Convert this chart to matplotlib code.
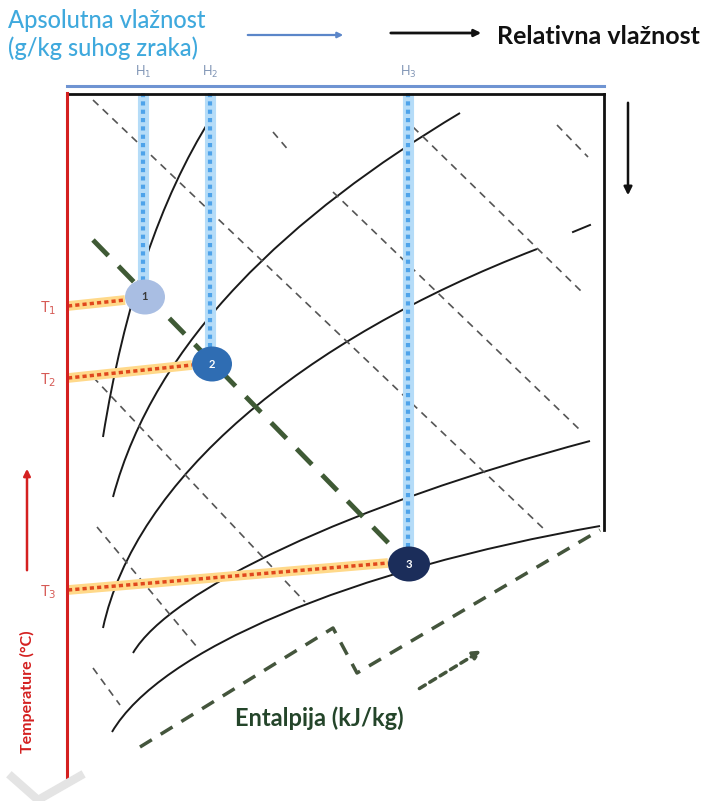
import matplotlib.pyplot as plt
from matplotlib.path import Path
from matplotlib.patches import PathPatch, Ellipse

plt.rcParams['font.family'] = ['Lato', 'DejaVu Sans']

# everything below is in picture pixels (x right, y down)

# relative humidity curves, cubic bezier: start, ctrl1, ctrl2, end
rh_curves = [
    [(103, 437), (124, 306), (160, 199), (211, 118)],
    [(113, 497), (155, 340), (290, 215), (460, 113)],
    [(103, 628), (135, 480), (300, 340), (537, 249)],
    [(133, 653), (170, 590), (350, 505), (590, 441)],
    [(112, 732), (160, 650), (350, 570), (600, 526)],
]
rh_stub = [(573, 232), (590, 225)]

# thin dashed enthalpy lines
enthalpy_lines = [
    [(93, 100), (545, 530)],
    [(273, 132), (290, 152)],
    [(333, 192), (580, 430)],
    [(413, 127), (583, 293)],
    [(557, 125), (588, 157)],
    [(93, 377), (305, 602)],
    [(97, 527), (197, 647)],
    [(93, 668), (120, 705)],
]

process_line = [(93, 240), (405, 560)]
enthalpy_axis = [(140, 747), (333, 628), (357, 673), (600, 530)]
enthalpy_arrow = [(417, 690), (484, 649)]

state_labels = ['1', '2', '3']
state_x = [145, 212, 409]
state_y = [297, 364, 564]
state_w = [40, 40, 42]
state_h = [35, 35, 35]
state_colors = ['#a9bee3', '#2f6db3', '#1b2d5a']
state_text_colors = ['#3a3a3a', 'white', 'white']

humid_labels = ['H$_1$', 'H$_2$', 'H$_3$']
humid_x = [143, 210, 408]
humid_bottom = [282, 348, 548]

temp_labels = ['T$_1$', 'T$_2$', 'T$_3$']
temp_y = [306, 378, 590]
temp_end = [(125, 300), (192, 365), (388, 563)]

fig = plt.figure(figsize=(7.16, 8.01), dpi=100)
ax = fig.add_axes([0, 0, 1, 1])
ax.set_xlim(0, 716)
ax.set_ylim(801, 0)
ax.axis('off')

for seg in enthalpy_lines:
    xs, ys = zip(*seg)
    ax.plot(xs, ys, color='#555555', lw=1.2, dashes=(4.5, 3.5))

for c in rh_curves:
    path = Path(c, [Path.MOVETO, Path.CURVE4, Path.CURVE4, Path.CURVE4])
    ax.add_patch(PathPatch(path, fill=False, ec='#1a1a1a', lw=1.4))
xs, ys = zip(*rh_stub)
ax.plot(xs, ys, color='#1a1a1a', lw=1.4)

# absolute humidity bars
for x, yb, lab in zip(humid_x, humid_bottom, humid_labels):
    ax.plot([x, x], [93, yb], color='#b5dcf8', lw=8, solid_capstyle='butt')
    ax.plot([x, x], [93, yb], color='#4ea3ea', lw=3, dashes=(1, 1))
    ax.text(x, 72, lab, color='#8095b5', fontsize=9, ha='center', va='center')

# temperature guides
for y, (xe, ye), lab in zip(temp_y, temp_end, temp_labels):
    ax.plot([68, xe], [y, ye], color='#ffd98a', lw=7, solid_capstyle='butt')
    ax.plot([68, xe], [y, ye], color='#e0471c', lw=2.5, dashes=(1.2, 0.9))
    ax.text(48, y + 2, lab, color='#d65a55', fontsize=10.5, ha='center', va='center')

# process line
xs, ys = zip(*process_line)
ax.plot(xs, ys, color='#3f5a35', lw=3.5, dashes=(4.5, 3))

# enthalpy axis
xs, ys = zip(*enthalpy_axis)
ax.plot(xs, ys, color='#44553c', lw=2.5, dashes=(4, 3))
ax.annotate('', xy=enthalpy_arrow[1], xytext=enthalpy_arrow[0],
            arrowprops=dict(arrowstyle='-|>', color='#44553c', lw=2.5,
                            linestyle=(0, (2, 1.5)), mutation_scale=12))
ax.text(319, 718, 'Entalpija (kJ/kg)', color='#24452a', fontsize=17,
        fontweight='bold', ha='center', va='center')

# state points
for x, y, w, h, col, tcol, lab in zip(state_x, state_y, state_w, state_h,
                                      state_colors, state_text_colors, state_labels):
    ax.add_patch(Ellipse((x, y), w, h, fc=col, ec='none', zorder=5))
    ax.text(x, y, lab, color=tcol, fontsize=8, fontweight='bold',
            ha='center', va='center', zorder=6)

# frame
ax.plot([67, 604], [86, 86], color='#6f94d2', lw=2.2)
ax.plot([67, 604], [94, 94], color='#111111', lw=2)
ax.plot([604, 604], [94, 530], color='#111111', lw=2)
ax.plot([67, 67], [93, 777], color='#d42020', lw=2.2)

# temperature axis
ax.annotate('', xy=(27, 466), xytext=(27, 573),
            arrowprops=dict(arrowstyle='-|>', color='#d42020', lw=1.8, mutation_scale=10))
ax.text(27, 692, 'Temperature (°C)', color='#d42020', fontsize=11.5,
        fontweight='bold', rotation=90, ha='center', va='center')

# relative humidity arrow
ax.annotate('', xy=(628, 198), xytext=(628, 100),
            arrowprops=dict(arrowstyle='-|>', color='#111111', lw=1.8, mutation_scale=12))

# header
ax.text(8, 21, 'Apsolutna vlažnost', color='#3fa9dd', fontsize=17,
        fontweight='medium', va='center')
ax.text(8, 48, '(g/kg suhog zraka)', color='#3fa9dd', fontsize=17,
        fontweight='medium', va='center')
ax.annotate('', xy=(346, 35), xytext=(245, 35),
            arrowprops=dict(arrowstyle='-|>', color='#5b86c9', lw=1.6, mutation_scale=8))
ax.annotate('', xy=(484, 33), xytext=(388, 33),
            arrowprops=dict(arrowstyle='-|>', color='#111111', lw=2, mutation_scale=10))
ax.text(497, 36, 'Relativna vlažnost', color='#111111', fontsize=18,
        fontweight='bold', va='center')

# faint watermark mark in the corner
ax.plot([12, 38, 80], [777, 800, 776], color='#e4e4e4', lw=6)

fig.savefig('out.png', dpi=100)
